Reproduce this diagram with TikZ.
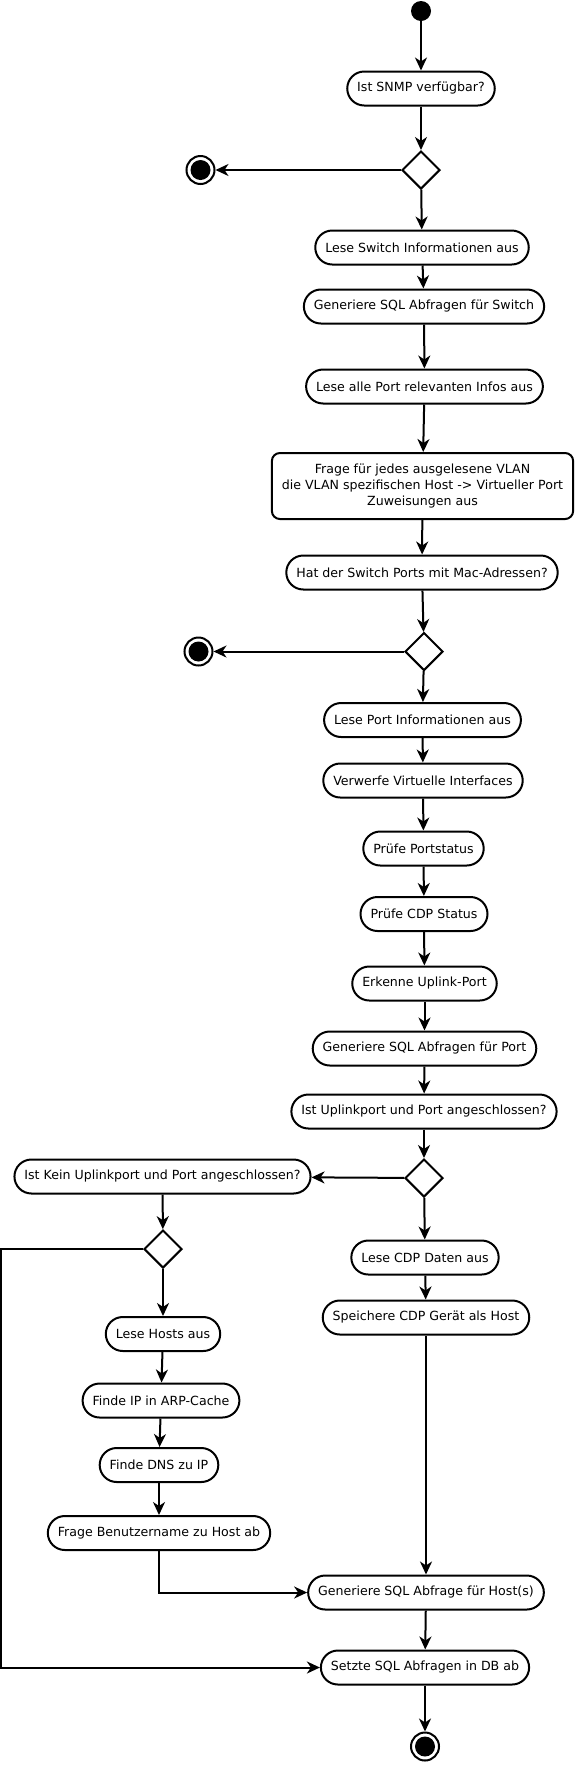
\documentclass[tikz,border=0pt]{standalone}
\usepackage{fontspec}
\setmainfont{DejaVu Sans}
\usepackage{xcolor}
\usepackage{tikz}
\usetikzlibrary{shapes.geometric, arrows.meta}

\begin{document}
\begin{tikzpicture}[x=1pt, y=1pt, every node/.style={font=\fontsize{12.6}{16}\selectfont}]
        % Define block styles with white background
        \tikzstyle{block} = [rectangle, draw, line width=2pt, fill=white,
                             text centered, rounded corners=17pt, minimum height=34pt, inner xsep=10pt, inner ysep=0pt]
        \tikzstyle{bigblock} = [rectangle, draw, line width=2pt, fill=white,
                             align=center, rounded corners=8pt, minimum height=66pt, inner xsep=10pt]
        \tikzstyle{decision} = [diamond, draw, line width=2pt, fill=white, aspect=1, minimum size=38pt, inner sep=0pt]
        \tikzstyle{startpoint} = [circle, fill=black, minimum size=20pt, inner sep=0pt]
        \tikzstyle{endpoint} = [circle, draw, line width=2pt, minimum size=28pt, inner sep=0pt,
                             path picture={\fill (path picture bounding box.center) circle (10pt);}]
        \tikzstyle{arrow} = [line width=2pt, -{Stealth[length=13pt, width=12pt, inset=4pt]}]

        \useasboundingbox (0,0) rectangle (576,-1765);

        % Main column
        \node (start) [startpoint] at (421,-11) {};
        \node (snmp) [block] at (421,-88.5) {Ist SNMP verfügbar?};
        \node (snmpdec) [decision] at (421,-170) {};
        \node (snmpend) [endpoint] at (200.5,-170) {};
        \node (switchinfo) [block] at (422,-247.5) {Lese Switch Informationen aus};
        \node (sqlswitch) [block] at (424,-306.5) {Generiere SQL Abfragen für Switch};
        \node (portinfos) [block] at (424.5,-386.5) {Lese alle Port relevanten Infos aus};
        \node (vlan) [bigblock] at (422.5,-486) {Frage für jedes ausgelesene VLAN\\die VLAN spezifischen Host -> Virtueller Port\\Zuweisungen aus};
        \node (macq) [block] at (422,-572.5) {Hat der Switch Ports mit Mac-Adressen?};
        \node (macdec) [decision] at (424,-651.5) {};
        \node (macend) [endpoint] at (198.5,-651.5) {};
        \node (portinfo) [block] at (422.5,-720) {Lese Port Informationen aus};
        \node (virtif) [block] at (423,-780.5) {Verwerfe Virtuelle Interfaces};
        \node (portstatus) [block] at (423.5,-848.5) {Prüfe Portstatus};
        \node (cdpstatus) [block] at (424,-914) {Prüfe CDP Status};
        \node (uplink) [block] at (424.5,-983.5) {Erkenne Uplink-Port};
        \node (sqlport) [block] at (424.5,-1048.5) {Generiere SQL Abfragen für Port};
        \node (uplinkq) [block] at (424,-1111.5) {Ist Uplinkport und Port angeschlossen?};
        \node (uplinkdec) [decision] at (424,-1178) {};
        \node (cdpdata) [block] at (425,-1257.5) {Lese CDP Daten aus};
        \node (savecdp) [block] at (426,-1317.5) {Speichere CDP Gerät als Host};
        \node (sqlhost) [block] at (426,-1592.5) {Generiere SQL Abfrage für Host(s)};
        \node (runsql) [block] at (425,-1667.5) {Setzte SQL Abfragen in DB ab};
        \node (finish) [endpoint] at (425,-1746.5) {};

        % Left column
        \node (keinq) [block] at (162.5,-1176.5) {Ist Kein Uplinkport und Port angeschlossen?};
        \node (keindec) [decision] at (163,-1249) {};
        \node (hosts) [block] at (163,-1334) {Lese Hosts aus};
        \node (arp) [block] at (161,-1400.5) {Finde IP in ARP-Cache};
        \node (dns) [block] at (159,-1465) {Finde DNS zu IP};
        \node (username) [block] at (159,-1533) {Frage Benutzername zu Host ab};
        \coordinate (leftedge) at (1,0);

        % Arrows
        \draw [arrow] (start) -- (snmp);
        \draw [arrow] (snmp) -- (snmpdec);
        \draw [arrow] (snmpdec) -- (snmpend);
        \draw [arrow] (snmpdec) -- (switchinfo);
        \draw [arrow] (switchinfo) -- (sqlswitch);
        \draw [arrow] (sqlswitch) -- (portinfos);
        \draw [arrow] (portinfos) -- (vlan);
        \draw [arrow] (vlan) -- (macq);
        \draw [arrow] (macq) -- (macdec);
        \draw [arrow] (macdec) -- (macend);
        \draw [arrow] (macdec) -- (portinfo);
        \draw [arrow] (portinfo) -- (virtif);
        \draw [arrow] (virtif) -- (portstatus);
        \draw [arrow] (portstatus) -- (cdpstatus);
        \draw [arrow] (cdpstatus) -- (uplink);
        \draw [arrow] (uplink) -- (sqlport);
        \draw [arrow] (sqlport) -- (uplinkq);
        \draw [arrow] (uplinkq) -- (uplinkdec);
        \draw [arrow] (uplinkdec) -- (keinq);
        \draw [arrow] (uplinkdec) -- (cdpdata);
        \draw [arrow] (cdpdata) -- (savecdp);
        \draw [arrow] (savecdp) -- (sqlhost);
        \draw [arrow] (keinq) -- (keindec);
        \draw [arrow] (keindec) -- (hosts);
        \draw [arrow] (hosts) -- (arp);
        \draw [arrow] (arp) -- (dns);
        \draw [arrow] (dns) -- (username);
        \draw [arrow] (username) |- (sqlhost);
        \draw [arrow] (keindec.west) -- (keindec.west -| leftedge) |- (runsql);
        \draw [arrow] (sqlhost) -- (runsql);
        \draw [arrow] (runsql) -- (finish);
    \end{tikzpicture}
\end{document}
